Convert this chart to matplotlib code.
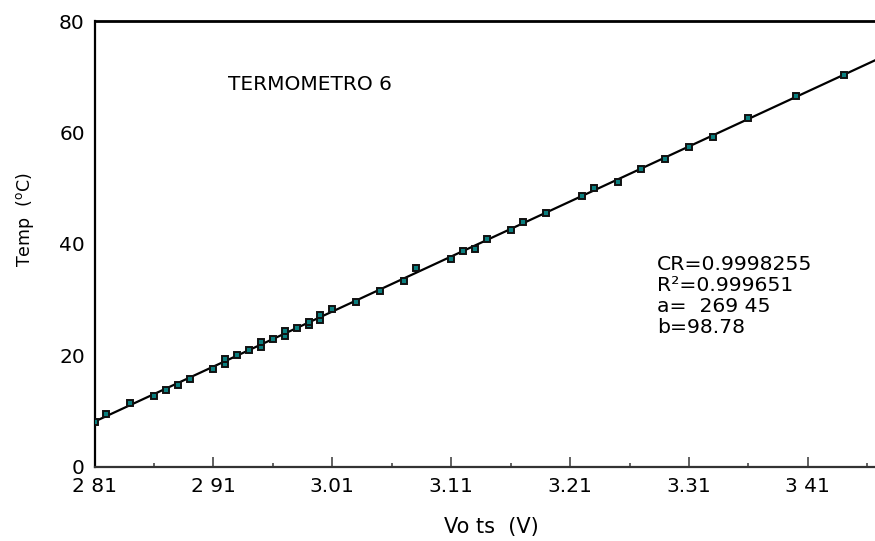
import numpy as np
from matplotlib import pyplot as plt

plt.rcParams['font.family'] = ['DejaVu Sans']

# datos
volts = [2.81, 2.82, 2.84, 2.86, 2.87, 2.88, 2.89, 2.91, 2.92, 2.92,
         2.93, 2.94, 2.95, 2.95, 2.96, 2.97, 2.97, 2.98, 2.99, 2.99,
         3.00, 3.00, 3.01, 3.03, 3.05, 3.07, 3.08, 3.11, 3.12, 3.13,
         3.14, 3.16, 3.17, 3.19, 3.22, 3.23, 3.25, 3.27, 3.29, 3.31,
         3.33, 3.36, 3.40, 3.44]
temps = [7.97, 9.41, 11.50, 12.64, 13.72, 14.73, 15.70, 17.55, 18.39, 19.34,
         20.10, 20.93, 21.59, 22.36, 22.90, 23.53, 24.32, 24.91, 25.40, 25.99,
         26.35, 27.19, 28.27, 29.64, 31.61, 33.41, 35.69, 37.36, 38.69, 39.16,
         40.90, 42.46, 43.95, 45.62, 48.62, 50.00, 51.19, 53.47, 55.21, 57.42,
         59.22, 62.63, 66.53, 70.41]

# ajuste lineal T = b*V - a
a = 269.45
b = 98.78
stats = ['CR=0.9998255', 'R²=0.999651', 'a=  269 45', 'b=98.78']

xticks = [2.81, 2.91, 3.01, 3.11, 3.21, 3.31, 3.41]
xticklabels = ['2 81', '2 91', '3.01', '3.11', '3.21', '3.31', '3 41']
xminor = [2.86, 2.96, 3.06, 3.16, 3.26, 3.36, 3.46]
yticks = [0, 20, 40, 60, 80]

fig = plt.figure(figsize=(8.75, 5.41), dpi=100)
ax = fig.add_axes([0.108, 0.137, 0.892, 0.824])

xlim = (2.81, 3.4664)
xs = np.array(xlim)
ax.plot(xs, b * xs - a, color='black', linewidth=1.6, zorder=2)
ax.plot(volts, temps, linestyle='none', marker='s', markersize=5,
        markerfacecolor='#0a7f7f', markeredgecolor='#111111',
        markeredgewidth=1.4, zorder=3)

ax.set_xlim(*xlim)
ax.set_ylim(0, 80)

ax.spines['right'].set_visible(False)
ax.spines['top'].set_linewidth(2)
ax.spines['left'].set_linewidth(1.6)
ax.spines['bottom'].set_linewidth(1.6)
ax.spines['bottom'].set_color('#333333')

ax.set_xticks(xticks)
ax.set_xticklabels(xticklabels)
ax.set_xticks(xminor, minor=True)
ax.set_yticks(yticks)
ax.tick_params(axis='x', which='major', direction='in', length=7, width=1.3,
               color='#555555', labelsize=14.5, pad=7)
ax.tick_params(axis='x', which='minor', direction='in', length=3, width=1.3,
               color='#555555')
ax.tick_params(axis='y', length=0, labelsize=14.5, pad=7)

ax.set_xlabel('Vo ts  (V)', fontsize=15)
ax.xaxis.set_label_coords(0.509, -0.113)
ax.set_ylabel('Temp  ($^{\\rm o}$C)', fontsize=12.5)
ax.yaxis.set_label_coords(-0.075, 0.554)

ax.text(2.9225, 68.7, 'TERMOMETRO 6', fontsize=14.5, va='center', ha='left')
for i, s in enumerate(stats):
    ax.text(3.2831, 36.3 - i * 3.77, s, fontsize=14.7, va='center', ha='left')

plt.savefig('out.png', dpi=100)
